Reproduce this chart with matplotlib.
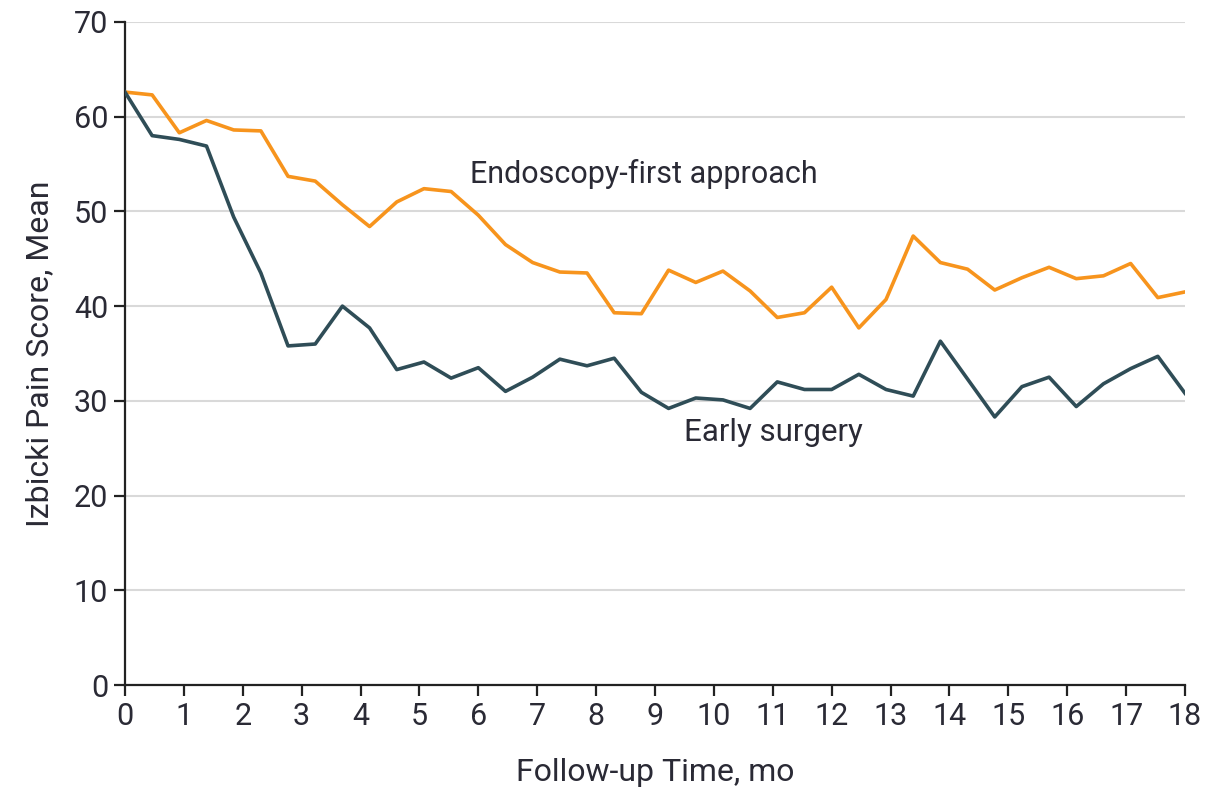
import numpy as np
import matplotlib
matplotlib.use("Agg")
import matplotlib.pyplot as plt

plt.rcParams['font.family'] = ['Roboto', 'DejaVu Sans']

# follow-up visits every 2 weeks over 18 months (40 points)
months = np.linspace(0, 18, 40)

endoscopy_first = [62.6, 62.3, 58.3, 59.6, 58.6, 58.5, 53.7, 53.2, 50.7, 48.4,
                   51.0, 52.4, 52.1, 49.6, 46.5, 44.6, 43.6, 43.5, 39.3, 39.2,
                   43.8, 42.5, 43.7, 41.6, 38.8, 39.3, 42.0, 37.7, 40.7, 47.4,
                   44.6, 43.9, 41.7, 43.0, 44.1, 42.9, 43.2, 44.5, 40.9, 41.5]

early_surgery = [62.6, 58.0, 57.6, 56.9, 49.4, 43.5, 35.8, 36.0, 40.0, 37.7,
                 33.3, 34.1, 32.4, 33.5, 31.0, 32.5, 34.4, 33.7, 34.5, 30.9,
                 29.2, 30.3, 30.1, 29.2, 32.0, 31.2, 31.2, 32.8, 31.2, 30.5,
                 36.3, 32.3, 28.3, 31.5, 32.5, 29.4, 31.8, 33.4, 34.7, 30.8]

x_ticks = list(range(0, 19))
y_ticks = list(range(0, 71, 10))

orange = '#F7941D'
slate = '#2F4D57'
text_col = '#2a2a35'

fig = plt.figure(figsize=(12.05, 7.9), dpi=100)
ax = fig.add_axes([0.1037, 0.1329, 0.8797, 0.8393])

ax.plot(months, endoscopy_first, color=orange, lw=2.6, zorder=3)
ax.plot(months, early_surgery, color=slate, lw=2.6, zorder=3)

ax.set_xlim(0, 18)
ax.set_ylim(0, 70)
ax.set_xticks(x_ticks)
ax.set_yticks(y_ticks)
ax.yaxis.grid(True, color='#d9d9d9', lw=1.5)
ax.set_axisbelow(True)

for s in ['top', 'right']:
    ax.spines[s].set_visible(False)
for s in ['left', 'bottom']:
    ax.spines[s].set_color('#222222')
    ax.spines[s].set_linewidth(1.6)
ax.tick_params(direction='out', length=8, width=1.6, color='#222222',
               labelsize=22, labelcolor=text_col, pad=4)

ax.set_xlabel('Follow-up Time, mo', fontsize=23, color=text_col, labelpad=20)
ax.set_ylabel('Izbicki Pain Score, Mean', fontsize=23, color=text_col, labelpad=14)

ax.text(5.86, 53.9, 'Endoscopy-first approach', fontsize=22, color=text_col,
        ha='left', va='center')
ax.text(9.49, 26.7, 'Early surgery', fontsize=22.5, color=text_col,
        ha='left', va='center')

fig.savefig('out.png', dpi=100)
